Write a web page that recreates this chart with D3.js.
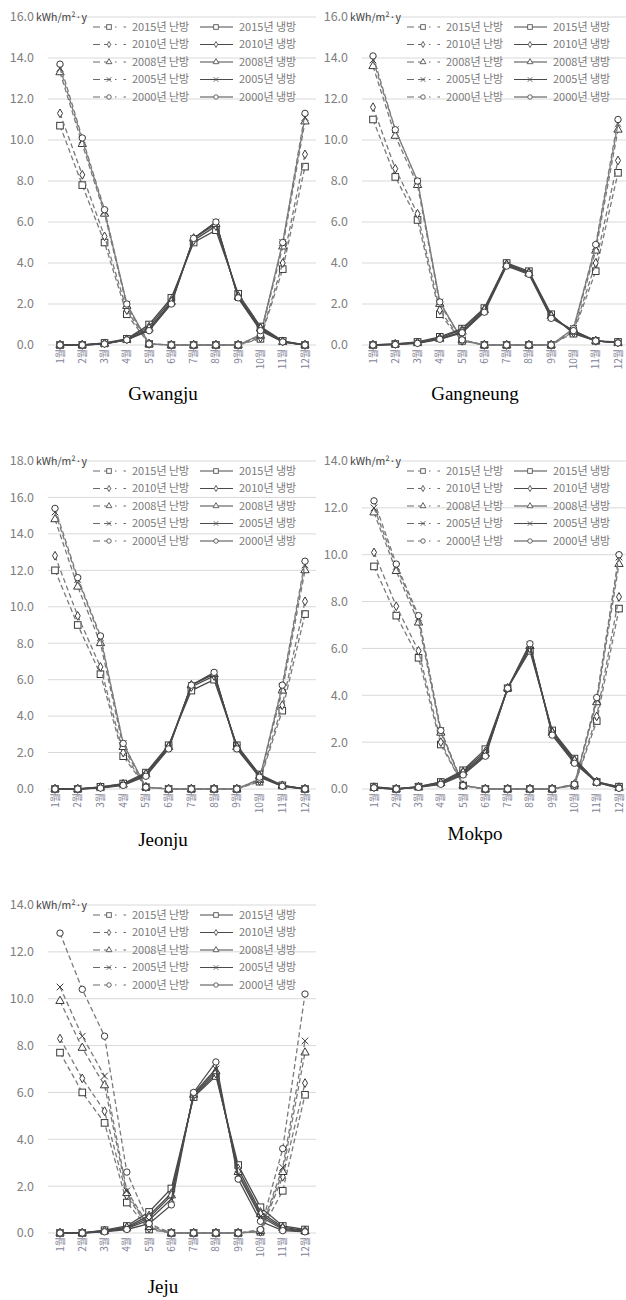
<!DOCTYPE html>
<html>
<head>
<meta charset="utf-8">
<script src="https://cdn.jsdelivr.net/npm/d3@7"></script>
<style>
  body { margin: 0; background: #fff; }
  svg { display: block; }
</style>
</head>
<body>
<div id="chart"></div>
<script>
// months and series names
var months = ["1월", "2월", "3월", "4월", "5월", "6월", "7월", "8월", "9월", "10월", "11월", "12월"];
var years = ["2015년", "2010년", "2008년", "2005년", "2000년"];
var modes = ["난방", "냉방"];
var cities = ["Gwangju", "Gangneung", "Jeonju", "Mokpo", "Jeju"];
var yMaxes = [16, 16, 18, 14, 14];

// heating / cooling per city, rows in the order of years
var gwangjuHeating = [
    [10.7, 7.8, 5.0, 1.5, 0.05, 0, 0, 0, 0, 0.3, 3.7, 8.7],
    [11.3, 8.3, 5.3, 1.7, 0.05, 0, 0, 0, 0, 0.35, 4.0, 9.3],
    [13.3, 9.8, 6.4, 1.9, 0.05, 0, 0, 0, 0, 0.45, 4.8, 10.9],
    [13.5, 10.0, 6.5, 2.0, 0.05, 0, 0, 0, 0, 0.5, 5.0, 11.1],
    [13.7, 10.1, 6.6, 2.0, 0.05, 0, 0, 0, 0, 0.5, 5.0, 11.3]
];
var gwangjuCooling = [
    [0, 0, 0.1, 0.3, 1.0, 2.3, 5.0, 5.6, 2.5, 0.9, 0.2, 0],
    [0, 0, 0.08, 0.28, 0.9, 2.2, 5.1, 5.8, 2.4, 0.85, 0.18, 0],
    [0, 0, 0.06, 0.25, 0.8, 2.1, 5.2, 5.9, 2.35, 0.8, 0.15, 0],
    [0, 0, 0.05, 0.25, 0.75, 2.05, 5.2, 6.0, 2.3, 0.75, 0.15, 0],
    [0, 0, 0.05, 0.25, 0.7, 2.0, 5.2, 6.0, 2.3, 0.7, 0.15, 0]
];
var gangneungHeating = [
    [11.0, 8.2, 6.1, 1.5, 0.2, 0, 0, 0, 0, 0.6, 3.6, 8.4],
    [11.6, 8.6, 6.4, 1.7, 0.2, 0, 0, 0, 0, 0.65, 4.0, 9.0],
    [13.6, 10.2, 7.8, 2.0, 0.25, 0, 0, 0, 0, 0.75, 4.6, 10.5],
    [13.9, 10.5, 8.0, 2.1, 0.25, 0, 0, 0, 0, 0.8, 4.8, 10.8],
    [14.1, 10.5, 8.0, 2.1, 0.25, 0, 0, 0, 0, 0.8, 4.9, 11.0]
];
var gangneungCooling = [
    [0, 0.05, 0.15, 0.4, 0.8, 1.8, 4.0, 3.6, 1.5, 0.55, 0.2, 0.15],
    [0, 0.05, 0.12, 0.35, 0.75, 1.75, 3.95, 3.55, 1.45, 0.6, 0.2, 0.12],
    [0, 0.03, 0.1, 0.3, 0.65, 1.7, 3.9, 3.5, 1.4, 0.65, 0.2, 0.1],
    [0, 0.03, 0.1, 0.3, 0.6, 1.65, 3.9, 3.5, 1.35, 0.7, 0.2, 0.1],
    [0, 0.02, 0.08, 0.28, 0.6, 1.6, 3.85, 3.45, 1.3, 0.7, 0.2, 0.1]
];
var jeonjuHeating = [
    [12.0, 9.0, 6.3, 1.8, 0.1, 0, 0, 0, 0, 0.4, 4.3, 9.6],
    [12.8, 9.5, 6.7, 2.0, 0.1, 0, 0, 0, 0, 0.45, 4.6, 10.3],
    [14.8, 11.1, 8.0, 2.3, 0.1, 0, 0, 0, 0, 0.5, 5.4, 12.0],
    [15.2, 11.5, 8.3, 2.5, 0.1, 0, 0, 0, 0, 0.55, 5.6, 12.3],
    [15.4, 11.6, 8.4, 2.5, 0.1, 0, 0, 0, 0, 0.55, 5.7, 12.5]
];
var jeonjuCooling = [
    [0, 0, 0.12, 0.3, 0.9, 2.4, 5.4, 6.0, 2.4, 0.8, 0.2, 0],
    [0, 0, 0.1, 0.28, 0.85, 2.35, 5.6, 6.2, 2.35, 0.75, 0.2, 0],
    [0, 0, 0.08, 0.25, 0.8, 2.3, 5.7, 6.3, 2.3, 0.7, 0.18, 0],
    [0, 0, 0.06, 0.22, 0.75, 2.25, 5.7, 6.35, 2.25, 0.7, 0.16, 0],
    [0, 0, 0.05, 0.2, 0.7, 2.2, 5.7, 6.4, 2.2, 0.65, 0.15, 0]
];
var mokpoHeating = [
    [9.5, 7.4, 5.6, 1.9, 0.15, 0, 0, 0, 0, 0.15, 2.9, 7.7],
    [10.1, 7.8, 5.9, 2.0, 0.15, 0, 0, 0, 0, 0.15, 3.1, 8.2],
    [11.8, 9.3, 7.1, 2.4, 0.15, 0, 0, 0, 0, 0.2, 3.7, 9.6],
    [12.0, 9.5, 7.3, 2.5, 0.15, 0, 0, 0, 0, 0.2, 3.8, 9.9],
    [12.3, 9.6, 7.4, 2.5, 0.15, 0, 0, 0, 0, 0.2, 3.9, 10.0]
];
var mokpoCooling = [
    [0.1, 0, 0.1, 0.3, 0.8, 1.7, 4.3, 5.9, 2.5, 1.3, 0.3, 0.1],
    [0.08, 0, 0.1, 0.28, 0.75, 1.6, 4.3, 6.0, 2.45, 1.25, 0.3, 0.08],
    [0.05, 0, 0.08, 0.25, 0.7, 1.5, 4.3, 6.1, 2.4, 1.2, 0.3, 0.05],
    [0.05, 0, 0.08, 0.22, 0.65, 1.45, 4.3, 6.15, 2.35, 1.15, 0.28, 0.05],
    [0.05, 0, 0.07, 0.2, 0.6, 1.4, 4.3, 6.2, 2.3, 1.1, 0.28, 0.03]
];
var jejuHeating = [
    [7.7, 6.0, 4.7, 1.3, 0.15, 0, 0, 0, 0, 0.05, 1.8, 5.9],
    [8.3, 6.6, 5.2, 1.6, 0.2, 0, 0, 0, 0, 0.05, 2.4, 6.4],
    [9.9, 7.9, 6.3, 1.7, 0.25, 0, 0, 0, 0, 0.08, 2.6, 7.7],
    [10.5, 8.4, 6.7, 1.8, 0.3, 0, 0, 0, 0, 0.1, 2.8, 8.2],
    [12.8, 10.4, 8.4, 2.6, 0.4, 0, 0, 0, 0, 0.15, 3.6, 10.2]
];
var jejuCooling = [
    [0, 0, 0.12, 0.3, 0.9, 1.9, 5.8, 6.7, 2.9, 1.1, 0.3, 0.15],
    [0, 0, 0.1, 0.25, 0.75, 1.7, 5.85, 6.8, 2.75, 0.9, 0.25, 0.1],
    [0, 0, 0.08, 0.22, 0.65, 1.6, 5.9, 6.9, 2.6, 0.8, 0.2, 0.08],
    [0, 0, 0.07, 0.2, 0.55, 1.45, 5.95, 7.0, 2.5, 0.7, 0.15, 0.06],
    [0, 0, 0.05, 0.15, 0.4, 1.2, 6.0, 7.3, 2.3, 0.5, 0.1, 0.05]
];
var heatingSets = [gwangjuHeating, gangneungHeating, jeonjuHeating, mokpoHeating, jejuHeating];
var coolingSets = [gwangjuCooling, gangneungCooling, jeonjuCooling, mokpoCooling, jejuCooling];

// panel placement
var panels = [
    {gridL: 48, gridR: 316, x1: 60, x12: 305, top: 17, bottom: 345, labelX: 34, titleX: 163, titleY: 400},
    {gridL: 362, gridR: 626, x1: 373, x12: 618, top: 17, bottom: 345, labelX: 348, titleX: 475, titleY: 400},
    {gridL: 48, gridR: 316, x1: 55, x12: 305, top: 461, bottom: 789, labelX: 34, titleX: 163, titleY: 846},
    {gridL: 362, gridR: 626, x1: 374, x12: 619, top: 461, bottom: 789, labelX: 348, titleX: 475, titleY: 840},
    {gridL: 48, gridR: 316, x1: 60, x12: 305, top: 905, bottom: 1233, labelX: 34, titleX: 163, titleY: 1293}
];

var KR = "'Noto Sans CJK KR', 'DejaVu Sans', sans-serif";

var svg = d3.select("#chart").append("svg")
    .attr("width", 626)
    .attr("height", 1300);

function marker(sel, i, size) {
    var s = size || 1;
    if (i == 0) {
        sel.append("rect").attr("x", -3.3 * s).attr("y", -3.3 * s)
            .attr("width", 6.6 * s).attr("height", 6.6 * s);
    } else if (i == 1) {
        sel.append("path").attr("d", d3.symbol().type(d3.symbolDiamond).size(22 * s * s)());
    } else if (i == 2) {
        sel.append("path").attr("d", d3.symbol().type(d3.symbolTriangle).size(30 * s * s)());
    } else if (i == 3) {
        var r = 3.3 * s;
        sel.append("path").attr("d", "M" + -r + "," + -r + "L" + r + "," + r + "M" + -r + "," + r + "L" + r + "," + -r);
    } else {
        sel.append("circle").attr("r", 3.2 * s);
    }
}

panels.forEach(function (p, c) {
    var g = svg.append("g");
    var x = d3.scalePoint().domain(months).range([p.x1, p.x12]);
    var y = d3.scaleLinear().domain([0, yMaxes[c]]).range([p.bottom, p.top]);
    var ticks = d3.range(0, yMaxes[c] + 0.1, 2);

    g.selectAll(".grid").data(ticks).enter().append("line")
        .attr("x1", p.gridL).attr("x2", p.gridR)
        .attr("y1", function (d) { return y(d); })
        .attr("y2", function (d) { return y(d); })
        .attr("stroke", "#d9d9d9").attr("stroke-width", 1);

    g.selectAll(".ylab").data(ticks).enter().append("text")
        .attr("x", p.labelX).attr("y", function (d) { return y(d); })
        .attr("dy", "0.35em")
        .attr("text-anchor", "end")
        .attr("font-family", KR).attr("font-size", 12.5)
        .attr("fill", "#808080")
        .text(function (d) { return d.toFixed(1); });

    g.append("text")
        .attr("x", p.labelX + 2).attr("y", y(yMaxes[c]))
        .attr("dy", "0.35em")
        .attr("font-family", KR).attr("font-size", 10.5)
        .attr("fill", "#404040")
        .text("kWh/m²·y");

    g.selectAll(".xlab").data(months).enter().append("text")
        .attr("transform", function (d) { return "translate(" + x(d) + "," + (p.bottom + 4) + ") rotate(-90)"; })
        .attr("dy", "0.35em")
        .attr("text-anchor", "end")
        .attr("font-family", KR).attr("font-size", 10)
        .attr("fill", "#7f8396")
        .text(function (d) { return d; });

    var line = d3.line()
        .x(function (d, i) { return x(months[i]); })
        .y(function (d) { return y(d); });

    [heatingSets[c], coolingSets[c]].forEach(function (set, m) {
        set.forEach(function (vals, i) {
            g.append("path")
                .attr("d", line(vals))
                .attr("fill", "none")
                .attr("stroke", m == 0 ? "#7a7a7a" : "#4a4a4a")
                .attr("stroke-width", 1.3)
                .attr("stroke-dasharray", m == 0 ? "5,3" : null);
            vals.forEach(function (v, k) {
                var mk = g.append("g")
                    .attr("transform", "translate(" + x(months[k]) + "," + y(v) + ")")
                    .attr("fill", "#fff").attr("stroke", "#3a3a3a").attr("stroke-width", 1);
                marker(mk, i, 1);
            });
        });
    });

    // legend
    years.forEach(function (yr, i) {
        var ly = p.top + 10 + i * 17.5;
        modes.forEach(function (md, m) {
            var lx = p.gridL + (m == 0 ? 45 : 152);
            g.append("line")
                .attr("x1", lx).attr("x2", lx + 33)
                .attr("y1", ly).attr("y2", ly)
                .attr("stroke", m == 0 ? "#6a6a6a" : "#4a4a4a")
                .attr("stroke-width", 1.2)
                .attr("stroke-dasharray", m == 0 ? "7,4,7,4,1.5" : null);
            var mk = g.append("g")
                .attr("transform", "translate(" + (lx + 16) + "," + ly + ")")
                .attr("fill", "#fff").attr("stroke", "#555").attr("stroke-width", 0.9);
            marker(mk, i, 0.7);
            g.append("text")
                .attr("x", lx + (m == 0 ? 39 : 39)).attr("y", ly)
                .attr("dy", "0.35em")
                .attr("font-family", KR).attr("font-size", 11)
                .attr("fill", "#7a7a7a")
                .text(yr + " " + md);
        });
    });

    g.append("text")
        .attr("x", p.titleX).attr("y", p.titleY)
        .attr("text-anchor", "middle")
        .attr("font-family", "'Liberation Serif', 'Times New Roman', serif")
        .attr("font-size", 19)
        .attr("fill", "#000")
        .text(cities[c]);
});
</script>
</body>
</html>
